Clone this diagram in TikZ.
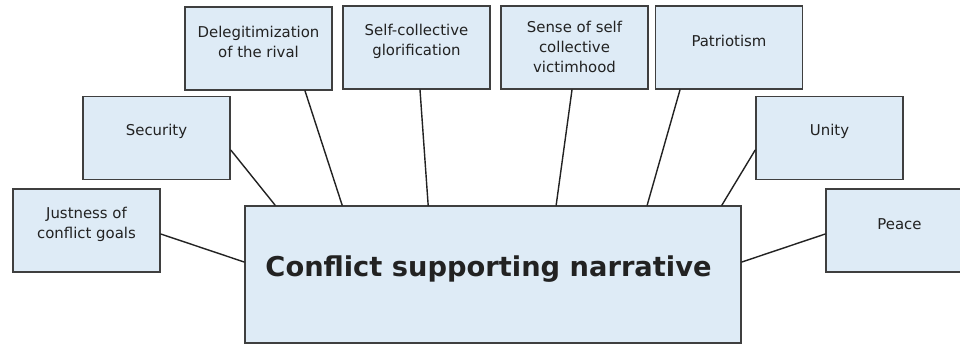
\documentclass[tikz,border=0pt]{standalone}
\usepackage{fontspec}
\setmainfont{DejaVu Sans}
\usepackage{xcolor}
\usepackage{tikz}
\usetikzlibrary{calc}
\definecolor{boxfill}{HTML}{DEEBF6}
\definecolor{edge}{HTML}{3F3F3F}
\definecolor{ink}{HTML}{222222}
\tikzset{
  box/.style={draw=edge, fill=boxfill, line width=1.1pt, minimum width=3.675cm, minimum height=2.075cm, inner sep=0pt},
  hub/.style={box, minimum width=12.4cm, minimum height=3.425cm},
  link/.style={draw=ink, line width=1.0pt, line cap=round},
  lab/.style={text=ink, align=center, font=\fontsize{10.6}{14.4}\selectfont},
  labb/.style={text=ink, font=\fontsize{19.4}{23}\selectfont\bfseries},
}

\begin{document}
\begin{tikzpicture}[x=0.025cm, y=-0.025cm]
  \useasboundingbox (0,0) rectangle (960,345);
  % central box
  \node[hub] (main) at (493,274.5) {};
  \node[labb] (main-t) at ($(main.center)+(-4.5,-5)$) {Conflict supporting narrative};
  % outer boxes
  \node[box] (just) at (86.5,230.5) {};
  \node[box] (sec) at (156.5,138) {};
  \node[box] (deleg) at (258.5,48.5) {};
  \node[box] (glor) at (416.5,47.5) {};
  \node[box] (vict) at (574.5,47.5) {};
  \node[box] (patr) at (729,47.5) {};
  \node[box] (unity) at (829.5,138) {};
  \node[box] (peace) at (899.5,230.5) {};
  % texts, set high in the boxes
  \node[lab] (just-t) at ($(just.north)+(0,36)$) {Justness of\\conflict goals};
  \node[lab] (sec-t) at ($(sec.north)+(0,36)$) {Security};
  \node[lab] (deleg-t) at ($(deleg.north)+(0,36)$) {Delegitimization\\of the rival};
  \node[lab] (glor-t) at ($(glor.north)+(0,36)$) {Self-collective\\glorification};
  \node[lab] (vict-t) at ($(vict.north)+(0,41.5)$) {Sense of self\\collective\\victimhood};
  \node[lab] (patr-t) at ($(patr.north)+(0,36)$) {Patriotism};
  \node[lab] (unity-t) at ($(unity.north)+(0,36)$) {Unity};
  \node[lab] (peace-t) at ($(peace.north)+(0,36)$) {Peace};
  % spokes
  \draw[link] ($(just.east)+(0,3.5)$) -- ($(main.west)+(0,-12.5)$);
  \draw[link] ($(sec.east)+(0,12)$) -- ($(main.north west)+(31,0)$);
  \draw[link] ($(deleg.south)+(46.5,0)$) -- ($(main.north west)+(98,0)$);
  \draw[link] ($(glor.south)+(3.5,0)$) -- ($(main.north west)+(184,0)$);
  \draw[link] ($(vict.south)+(-2.5,0)$) -- ($(main.north west)+(312,0)$);
  \draw[link] ($(patr.south)+(-49,0)$) -- ($(main.north west)+(403,0)$);
  \draw[link] ($(unity.west)+(0,12)$) -- ($(main.north east)+(-20,0)$);
  \draw[link] ($(peace.west)+(0,3.5)$) -- ($(main.east)+(0,-12.5)$);
\end{tikzpicture}
\end{document}
